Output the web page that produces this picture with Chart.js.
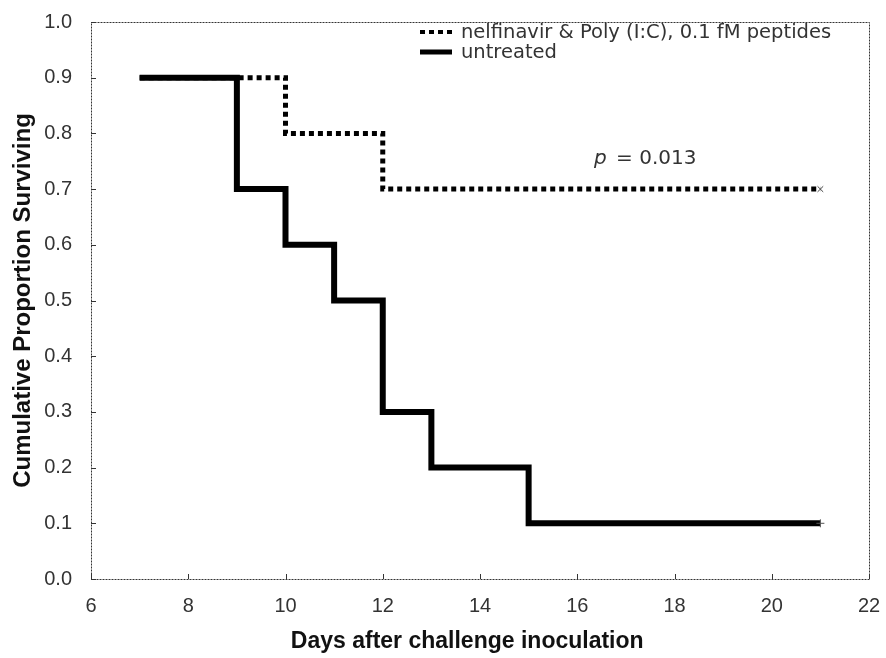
<!DOCTYPE html>
<html>
<head>
  <meta charset="utf-8">
  <script src="https://cdn.jsdelivr.net/npm/chart.js@4.4.0/dist/chart.umd.min.js"></script>
  <style>
    html, body { margin: 0; padding: 0; background: #fff; }
    #wrap { width: 886px; height: 658px; }
  </style>
</head>
<body>
<div id="wrap"><canvas id="km"></canvas></div>
<script>
  // Kaplan-Meier step points (day, proportion surviving)
  const treatedDays = [7, 10, 12, 21];
  const treatedSurv = [0.9, 0.8, 0.7, 0.7];
  const untreatedDays = [7, 9, 10, 11, 12, 13, 15, 21];
  const untreatedSurv = [0.9, 0.7, 0.6, 0.5, 0.3, 0.2, 0.1, 0.1];

  const xTicks = [6, 8, 10, 12, 14, 16, 18, 20, 22];
  const yTicks = [0, 0.1, 0.2, 0.3, 0.4, 0.5, 0.6, 0.7, 0.8, 0.9, 1.0];

  const seriesLabels = ['nelfinavir & Poly (I:C), 0.1 fM peptides', 'untreated'];
  const pText = '= 0.013';

  function toPoints(xs, ys) {
    return xs.map((x, i) => ({ x: x, y: ys[i] }));
  }
  function lastOnly(n, r) {
    return Array.from({ length: n }, (_, i) => i === n - 1 ? r : 0);
  }

  const FONT = '"Liberation Sans", Arial, sans-serif';
  const WIDE = '"DejaVu Sans", Verdana, sans-serif';

  // frame, inward tick marks, legend and p-value
  const extras = {
    id: 'extras',
    afterDraw(chart) {
      const ctx = chart.ctx;
      const a = chart.chartArea;
      const xs = chart.scales.x, ys = chart.scales.y;
      ctx.save();
      ctx.strokeStyle = '#333';
      ctx.lineWidth = 1;
      ctx.setLineDash([2, 1]);
      ctx.strokeRect(a.left + 0.5, a.top + 0.5, a.right - a.left, a.bottom - a.top);
      ctx.setLineDash([]);
      ctx.beginPath();
      xTicks.forEach(v => {
        const px = Math.round(xs.getPixelForValue(v)) + 0.5;
        ctx.moveTo(px, a.bottom);
        ctx.lineTo(px, a.bottom - 5);
      });
      yTicks.forEach(v => {
        const py = Math.round(ys.getPixelForValue(v)) + 0.5;
        ctx.moveTo(a.left, py);
        ctx.lineTo(a.left + 5, py);
      });
      ctx.stroke();

      // legend
      const ds = chart.data.datasets;
      const rows = [32, 52];
      ds.forEach((d, i) => {
        ctx.beginPath();
        ctx.strokeStyle = d.borderColor;
        ctx.lineWidth = d.borderWidth - 1;
        ctx.setLineDash(d.borderDash || []);
        ctx.moveTo(420, rows[i]);
        ctx.lineTo(452, rows[i]);
        ctx.stroke();
        ctx.setLineDash([]);
        ctx.fillStyle = '#333';
        ctx.font = '19.5px ' + WIDE;
        ctx.textBaseline = 'middle';
        ctx.fillText(d.label, 461, rows[i] + 1);
      });

      // p value
      ctx.font = 'italic 20px ' + WIDE;
      ctx.fillText('p', 594, 159);
      const pw = ctx.measureText('p ').width + 3;
      ctx.font = '20px ' + WIDE;
      ctx.fillText(pText, 594 + pw, 159);
      ctx.restore();
    }
  };

  new Chart(document.getElementById('km'), {
    type: 'scatter',
    data: {
      datasets: [
        {
          label: seriesLabels[0],
          data: toPoints(treatedDays, treatedSurv),
          showLine: true,
          stepped: 'before',
          borderColor: '#000',
          borderWidth: 5,
          borderDash: [5, 4],
          pointRadius: lastOnly(treatedDays.length, 4),
          pointStyle: 'crossRot',
          pointBorderColor: '#444',
          pointBorderWidth: 1,
          backgroundColor: '#000'
        },
        {
          label: seriesLabels[1],
          data: toPoints(untreatedDays, untreatedSurv),
          showLine: true,
          stepped: 'before',
          borderColor: '#000',
          borderWidth: 6,
          pointRadius: lastOnly(untreatedDays.length, 4),
          pointStyle: 'cross',
          pointBorderColor: '#555',
          pointBorderWidth: 1,
          backgroundColor: '#000'
        }
      ]
    },
    options: {
      responsive: true,
      maintainAspectRatio: false,
      animation: false,
      layout: { padding: { top: 22, right: 17, left: 0, bottom: 0 } },
      plugins: {
        legend: { display: false },
        tooltip: { enabled: false }
      },
      scales: {
        x: {
          type: 'linear',
          min: 6,
          max: 22,
          border: { display: false },
          grid: { display: false },
          afterBuildTicks: s => { s.ticks = xTicks.map(v => ({ value: v })); },
          afterFit: s => { s.height = 79; s.paddingLeft = 0; s.paddingRight = 0; },
          ticks: {
            color: '#333',
            font: { family: FONT, size: 20 },
            padding: 7,
            callback: v => v
          },
          title: {
            display: true,
            // trailing spaces nudge the centred title left like the original
            text: 'Days after challenge inoculation    ',
            color: '#111',
            font: { family: FONT, size: 23, weight: 'bold' },
            padding: { top: 0, bottom: 3 }
          }
        },
        y: {
          min: 0,
          max: 1,
          border: { display: false },
          grid: { display: false },
          afterBuildTicks: s => { s.ticks = yTicks.map(v => ({ value: v })); },
          afterFit: s => { s.width = 91; s.paddingTop = 0; s.paddingBottom = 0; },
          ticks: {
            color: '#333',
            font: { family: FONT, size: 20 },
            padding: 11,
            callback: v => v.toFixed(1)
          },
          title: {
            display: true,
            text: 'Cumulative Proportion Surviving',
            color: '#111',
            font: { family: FONT, size: 24, weight: 'bold' },
            padding: { top: 9, bottom: 0 }
          }
        }
      }
    },
    plugins: [extras]
  });
</script>
</body>
</html>
